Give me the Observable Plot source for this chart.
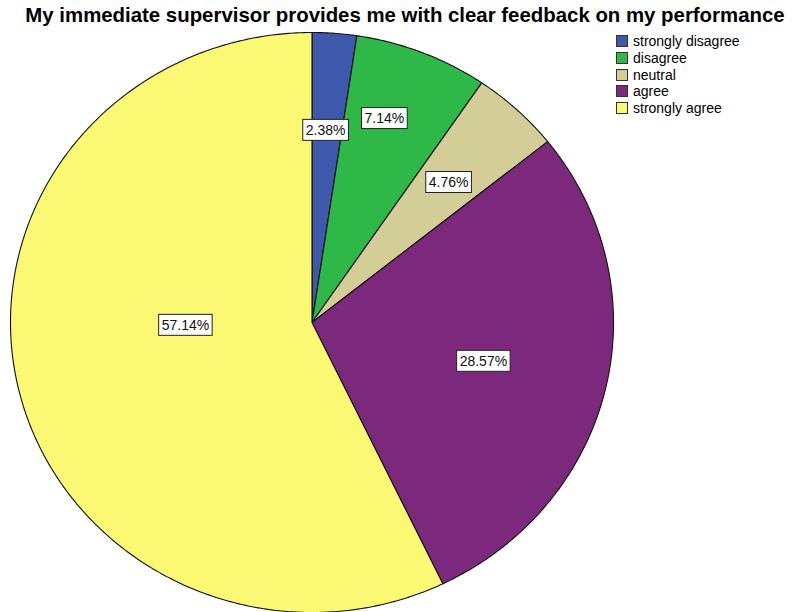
<!DOCTYPE html>
<html>
<head>
<meta charset="utf-8">
<script src="https://cdn.jsdelivr.net/npm/d3@7"></script>
<script src="https://cdn.jsdelivr.net/npm/@observablehq/plot@0.6"></script>
<style>
  body { margin: 0; background: #fff; font-family: "Liberation Sans", Arial, sans-serif; }
  #wrap { position: relative; width: 797px; height: 612px; overflow: hidden; }
  #title { position: absolute; left: 0; top: 0; width: 797px; height: 24px; text-align: center; white-space: nowrap;
           font-weight: bold; font-size: 20.4px; line-height: 30px; padding-left: 13px; box-sizing: border-box; color: #000; }
  #chart { position: absolute; left: 0; top: 24px; }
  #legend { position: absolute; left: 616px; top: 33px; font-size: 14px; color: #000; }
  .row { height: 16.7px; display: flex; align-items: center; }
  .sw { width: 10px; height: 10px; border: 1px solid #333; margin-right: 5px; }
</style>
</head>
<body>
<div id="wrap">
  <div id="title">My immediate supervisor provides me with clear feedback on my performance</div>
  <div id="chart"></div>
  <div id="legend"></div>
</div>
<script>
const categories = ["strongly disagree", "disagree", "neutral", "agree", "strongly agree"];
const percents = [2.38, 7.14, 4.76, 28.57, 57.14];
const labels = ["2.38%", "7.14%", "4.76%", "28.57%", "57.14%"];
const colors = ["#3E58AC", "#2EB848", "#D3CE97", "#7C287D", "#FBF873"];
// label placement within each slice: fraction of the slice's sweep, fraction of the radius
const labelAt = [0.455, 0.40, 0.52, 0.504, 0.556];
const labelRadius = [0.664, 0.743, 0.662, 0.584, 0.42];

const total = d3.sum(percents);
const pts = [];
const labs = [];
let acc = 0;
categories.forEach((c, i) => {
  const a0 = acc / total * 2 * Math.PI;
  acc += percents[i];
  const a1 = acc / total * 2 * Math.PI;
  pts.push({cat: c, x: 0, y: 0});
  const n = Math.max(4, Math.ceil((a1 - a0) / (Math.PI / 360)));
  for (let k = 0; k <= n; k++) {
    const a = a0 + (a1 - a0) * k / n;
    pts.push({cat: c, x: Math.sin(a), y: Math.cos(a)});
  }
  pts.push({cat: c, x: 0, y: 0});
  const am = a0 + (a1 - a0) * labelAt[i];
  labs.push({cat: c, label: labels[i], x: labelRadius[i] * Math.sin(am), y: labelRadius[i] * Math.cos(am)});
});

const plot = Plot.plot({
  width: 797,
  height: 588,
  margin: 0,
  x: {domain: [-1, 1], range: [10, 613], axis: null},
  y: {domain: [-1, 1], range: [588, 8], axis: null},
  color: {domain: categories, range: colors},
  style: {fontFamily: "'Liberation Sans', Arial, sans-serif"},
  marks: [
    Plot.line(pts, {x: "x", y: "y", z: "cat", fill: "cat", stroke: "#111", strokeWidth: 1.1, strokeLinejoin: "round"}),
    Plot.text(labs, {x: "x", y: "y", text: "label", fontSize: 14, fill: "#111", className: "pielabel"})
  ]
});
document.getElementById("chart").appendChild(plot);

// white boxes behind the value labels
plot.querySelectorAll(".pielabel text").forEach(t => {
  const b = t.getBBox();
  const r = document.createElementNS("http://www.w3.org/2000/svg", "rect");
  const padX = 3, h = 21;
  r.setAttribute("x", b.x - padX);
  r.setAttribute("y", b.y + b.height / 2 - h / 2);
  r.setAttribute("width", b.width + 2 * padX);
  r.setAttribute("height", h);
  r.setAttribute("fill", "#fff");
  r.setAttribute("stroke", "#222");
  r.setAttribute("stroke-width", 1);
  const tr = t.getAttribute("transform");
  if (tr) r.setAttribute("transform", tr);
  t.parentNode.insertBefore(r, t);
});

const legend = document.getElementById("legend");
categories.forEach((c, i) => {
  const row = document.createElement("div");
  row.className = "row";
  row.innerHTML = `<div class="sw" style="background:${colors[i]}"></div><span>${c}</span>`;
  legend.appendChild(row);
});
</script>
</body>
</html>
